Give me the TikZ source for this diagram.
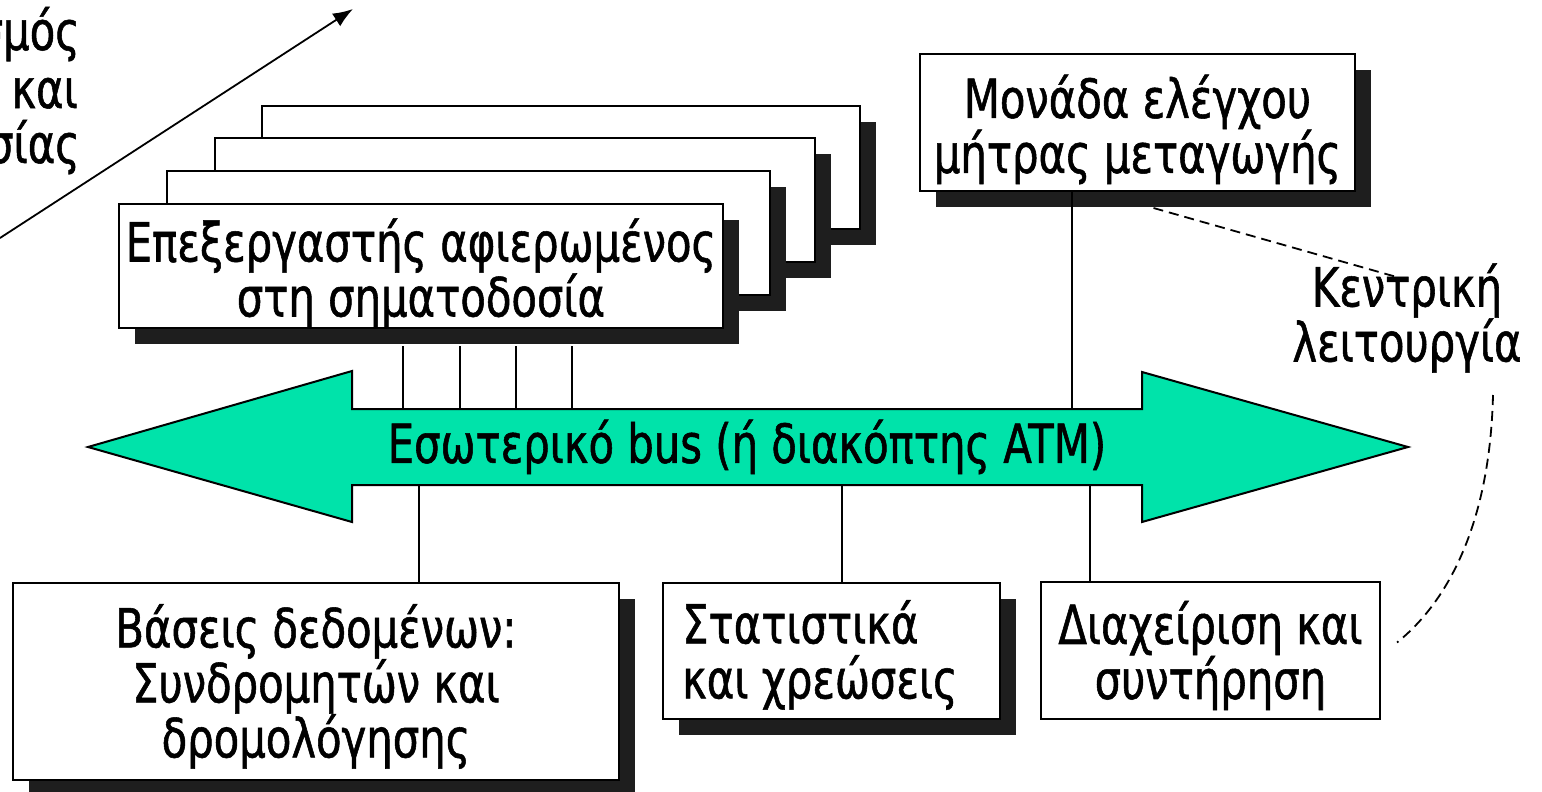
\documentclass[tikz,border=0pt]{standalone}
\usepackage{fontspec}
\setmainfont{DejaVu Sans Condensed}[FakeStretch=0.86,FakeBold=1]
\usetikzlibrary{shadows,arrows.meta,calc}
\definecolor{busgreen}{RGB}{0,227,170}
\definecolor{shadowgray}{RGB}{30,30,30}
\tikzset{
  box/.style={draw=black, line width=2pt, fill=white, inner sep=0pt},
  shad/.style={drop shadow={shadow xshift=16pt, shadow yshift=-16pt, fill=shadowgray, opacity=1}},
  conn/.style={line width=1.8pt},
  dashconn/.style={line width=1.8pt, dash pattern=on 10pt off 6pt},
  lbl/.style={font=\fontsize{54}{55}\selectfont, align=center, inner sep=0pt},
}
\begin{document}
\begin{tikzpicture}[x=1pt,y=-1pt]
\useasboundingbox (0,0) rectangle (1542,792);
\clip (0,0) rectangle (1542,792);

% top-left partial text and arrow
\node[lbl, anchor=base east] (t1) at (80,50) {σμός};
\node[lbl, anchor=base east] (t2) at (78,108) {και};
\node[lbl, anchor=base east] (t3) at (80,163) {σίας};
\coordinate (ta) at (0,238);
\coordinate (tb) at (353,9);
\draw[conn, -{Latex[length=20pt,width=15pt]}] (ta) -- (tb);

% stacked processors
\node[box,shad,minimum width=598pt,minimum height=123pt] (p4) at (561,167) {};
\node[box,shad,minimum width=600pt,minimum height=124pt] (p3) at (515,200) {};
\node[box,shad,minimum width=603pt,minimum height=124pt] (p2) at (468,233) {};
\node[box,shad,minimum width=604pt,minimum height=124pt] (p1) at (421,266) {};
\node[lbl, yshift=-7pt] (p1t) at (p1) {Επεξεργαστής αφιερωμένος\\στη σηματοδοσία};

% switching matrix control unit
\node[box,shad,minimum width=435pt,minimum height=137pt] (m) at (1137.5,122.5) {};
\node[lbl, yshift=-7pt] (mt) at (m) {Μονάδα ελέγχου\\μήτρας μεταγωγής};

% bus
\draw[line width=2pt, fill=busgreen, line join=miter]
  (88,447) -- (352,371) -- (352,409) -- (1142,409) -- (1142,372) -- (1408,447)
  -- (1142,522) -- (1142,485) -- (352,485) -- (352,522) -- cycle;
\node[lbl, minimum width=790pt, minimum height=76pt] (shaft) at (747,447)
  {Εσωτερικό bus (ή διακόπτης ATM)};

% bottom boxes
\node[box,shad,minimum width=606pt,minimum height=197pt] (db) at (316,681.5) {};
\node[lbl, yshift=-5pt] (dbt) at (db) {Βάσεις δεδομένων:\\Συνδρομητών και\\δρομολόγησης};
\node[box,shad,minimum width=337pt,minimum height=136pt] (st) at (831.5,651) {};
\node[lbl, align=left, anchor=west, yshift=-4pt] (stt) at ([xshift=20pt]st.west) {Στατιστικά\\και χρεώσεις};
\node[box,minimum width=339pt,minimum height=137pt] (mg) at (1210.5,650.5) {};
\node[lbl, yshift=-5pt] (mgt) at (mg) {Διαχείριση και\\συντήρηση};

% central function label
\node[lbl] (cf) at (1407,318) {Κεντρική\\λειτουργία};
\coordinate (cfend) at (1493,395);

% connectors to the bus
\foreach \dx in {-18,39,95,151}
  \draw[conn] ([xshift=\dx pt,yshift=-17pt]p1.south) -- ([xshift=\dx pt]p1.south |- shaft.north);
\draw[conn] ([xshift=-65.5pt]m.south) -- ([xshift=-65.5pt]m.south |- shaft.north);
\draw[conn] ([xshift=103pt]db.north) -- ([xshift=103pt]db.north |- shaft.south);
\draw[conn] ([xshift=10.5pt]st.north) -- ([xshift=10.5pt]st.north |- shaft.south);
\draw[conn] ([xshift=-120.5pt]mg.north) -- ([xshift=-120.5pt]mg.north |- shaft.south);

% dashed links
\draw[dashconn] ([xshift=16pt,yshift=-16pt]m.south) -- ([xshift=-3pt,yshift=-16pt]cf.north);
\draw[dashconn] (cfend) .. controls (1490,520) and (1450,600) .. ([xshift=16pt,yshift=8pt]mg.east);
\end{tikzpicture}
\end{document}
